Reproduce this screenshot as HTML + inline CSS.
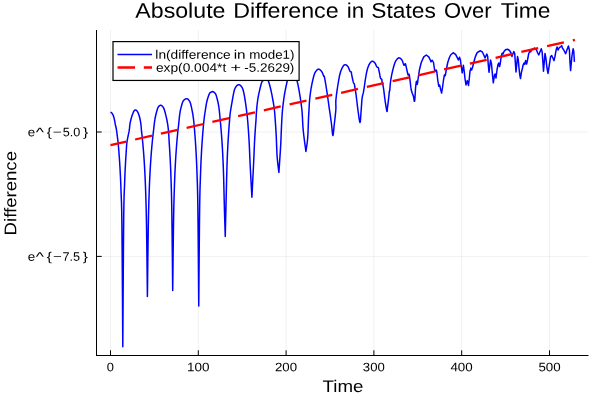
<!DOCTYPE html>
<html><head><meta charset="utf-8"><title>plot</title>
<style>
html,body{margin:0;padding:0;background:#fff;}
body{width:600px;height:400px;overflow:hidden;}
svg{display:block;will-change:transform;text-rendering:geometricPrecision;font-family:"Liberation Sans",sans-serif;}
</style></head><body>
<svg width="600" height="400" viewBox="0 0 600 400">
<rect x="0" y="0" width="600" height="400" fill="#ffffff"/>
<g stroke="#000" stroke-opacity="0.1" stroke-width="0.6" fill="none"><line x1="110.50" y1="30" x2="110.50" y2="355.5"/><line x1="198.30" y1="30" x2="198.30" y2="355.5"/><line x1="286.10" y1="30" x2="286.10" y2="355.5"/><line x1="373.90" y1="30" x2="373.90" y2="355.5"/><line x1="461.70" y1="30" x2="461.70" y2="355.5"/><line x1="549.50" y1="30" x2="549.50" y2="355.5"/><line x1="96.5" y1="132.0" x2="588.5" y2="132.0"/><line x1="96.5" y1="256.4" x2="588.5" y2="256.4"/></g>
<g stroke="#000" stroke-width="1" fill="none">
<line x1="96.5" y1="30" x2="96.5" y2="356"/>
<line x1="96" y1="355.5" x2="588.5" y2="355.5"/>
<line x1="110.50" y1="355.5" x2="110.50" y2="350.3"/><line x1="198.30" y1="355.5" x2="198.30" y2="350.3"/><line x1="286.10" y1="355.5" x2="286.10" y2="350.3"/><line x1="373.90" y1="355.5" x2="373.90" y2="350.3"/><line x1="461.70" y1="355.5" x2="461.70" y2="350.3"/><line x1="549.50" y1="355.5" x2="549.50" y2="350.3"/><line x1="96.5" y1="132.0" x2="101.7" y2="132.0"/><line x1="96.5" y1="256.4" x2="101.7" y2="256.4"/>
</g>
<clipPath id="c"><rect x="96.5" y="30" width="492" height="325.5"/></clipPath>
<g clip-path="url(#c)" fill="none">
<path d="M110.50 112.20 L110.68 112.27 L110.94 112.37 L111.23 112.51 L111.50 112.70 L111.75 112.95 L112.00 113.24 L112.25 113.59 L112.50 114.00 L112.75 114.45 L113.00 114.94 L113.25 115.52 L113.50 116.20 L113.75 117.01 L114.01 117.93 L114.26 118.93 L114.50 120.00 L114.73 121.17 L114.94 122.42 L115.16 123.72 L115.40 125.00 L115.65 126.07 L115.91 127.03 L116.19 128.22 L116.50 130.00 L116.90 132.81 L117.35 136.35 L117.78 139.84 L118.10 142.50 L118.25 143.81 L118.30 144.28 L118.32 144.72 L118.41 145.90 L118.59 148.05 L118.81 150.76 L119.06 153.82 L119.29 157.00 L119.51 160.21 L119.73 163.59 L119.95 167.25 L120.17 171.31 L120.39 175.61 L120.61 180.14 L120.82 185.30 L121.04 191.49 L121.26 197.08 L121.48 202.45 L121.70 210.95 L121.92 225.98 L122.16 252.95 L122.42 288.55 L122.64 323.07 L122.80 346.80 L122.96 321.69 L123.18 285.15 L123.44 247.53 L123.68 219.18 L123.90 203.68 L124.12 195.22 L124.34 190.13 L124.56 184.69 L124.78 178.51 L125.00 173.34 L125.21 168.81 L125.43 164.52 L125.66 160.37 L125.89 156.58 L126.11 153.18 L126.31 150.20 L126.46 147.80 L126.58 145.89 L126.71 144.22 L126.90 142.50 L127.18 140.67 L127.52 138.86 L127.87 137.13 L128.20 135.50 L128.50 134.04 L128.79 132.70 L129.06 131.39 L129.30 130.00 L129.49 128.47 L129.64 126.86 L129.80 125.26 L130.00 123.75 L130.26 122.34 L130.56 120.99 L130.88 119.71 L131.20 118.50 L131.51 117.38 L131.83 116.33 L132.16 115.35 L132.50 114.40 L132.86 113.44 L133.23 112.51 L133.61 111.66 L134.00 111.00 L134.39 110.53 L134.79 110.21 L135.20 110.04 L135.60 110.00 L136.00 110.10 L136.40 110.34 L136.80 110.71 L137.20 111.20 L137.60 111.83 L138.00 112.59 L138.38 113.45 L138.75 114.40 L139.09 115.42 L139.41 116.53 L139.71 117.72 L140.00 119.00 L140.28 120.43 L140.55 121.97 L140.80 123.54 L141.00 125.00 L141.13 126.29 L141.22 127.47 L141.29 128.67 L141.40 130.00 L141.56 131.45 L141.74 132.98 L141.93 134.64 L142.13 136.47 L142.34 138.51 L142.56 140.72 L142.79 143.07 L143.01 145.55 L143.23 148.10 L143.45 150.77 L143.67 153.60 L143.89 156.65 L144.11 159.87 L144.33 163.24 L144.55 166.90 L144.77 170.97 L144.99 175.26 L145.20 179.79 L145.42 184.95 L145.64 191.14 L145.86 197.90 L146.08 205.22 L146.30 214.12 L146.52 225.63 L146.76 242.45 L147.02 263.22 L147.24 282.91 L147.40 296.50 L147.56 283.24 L147.78 264.04 L148.04 243.75 L148.28 227.26 L148.50 215.86 L148.72 206.95 L148.94 199.57 L149.16 192.77 L149.38 186.58 L149.59 181.42 L149.81 176.89 L150.03 172.60 L150.25 168.53 L150.47 164.87 L150.69 161.50 L150.91 158.28 L151.13 155.23 L151.35 152.40 L151.57 149.74 L151.79 147.18 L152.01 144.74 L152.23 142.45 L152.44 140.26 L152.67 138.11 L152.89 136.09 L153.10 134.19 L153.33 132.22 L153.60 130.00 L153.89 127.38 L154.20 124.49 L154.56 121.55 L155.00 118.75 L155.57 115.99 L156.23 113.22 L156.91 110.71 L157.50 108.75 L157.98 107.51 L158.40 106.80 L158.79 106.38 L159.20 106.00 L159.62 105.62 L160.05 105.38 L160.47 105.25 L160.90 105.25 L161.32 105.37 L161.74 105.61 L162.17 105.98 L162.60 106.50 L163.03 107.06 L163.45 107.70 L163.90 108.62 L164.40 110.00 L165.00 112.04 L165.67 114.59 L166.33 117.35 L166.90 120.00 L167.36 122.45 L167.76 124.85 L168.10 127.34 L168.40 130.00 L168.64 132.87 L168.83 135.90 L169.00 139.06 L169.19 142.34 L169.40 145.64 L169.62 149.00 L169.84 152.61 L170.07 156.65 L170.29 160.95 L170.50 165.48 L170.72 170.64 L170.94 176.83 L171.16 183.39 L171.38 190.38 L171.60 199.21 L171.82 211.32 L172.06 229.85 L172.32 253.11 L172.54 275.30 L172.70 290.60 L172.86 276.96 L173.08 257.19 L173.34 236.33 L173.58 219.46 L173.80 207.92 L174.02 199.03 L174.24 191.73 L174.46 184.97 L174.68 178.78 L174.89 173.62 L175.11 169.09 L175.33 164.79 L175.55 160.73 L175.77 157.07 L175.99 153.69 L176.21 150.48 L176.43 147.44 L176.65 144.62 L176.87 141.95 L177.09 139.37 L177.32 136.81 L177.56 134.31 L177.79 132.00 L178.00 130.00 L178.15 128.62 L178.27 127.70 L178.40 126.67 L178.60 125.00 L178.87 122.34 L179.18 119.06 L179.55 115.62 L180.00 112.50 L180.55 109.66 L181.20 106.91 L181.87 104.45 L182.50 102.50 L183.07 101.21 L183.63 100.42 L184.16 99.93 L184.70 99.50 L185.23 99.09 L185.76 98.82 L186.28 98.69 L186.80 98.70 L187.33 98.87 L187.88 99.18 L188.40 99.63 L188.90 100.20 L189.35 100.82 L189.76 101.52 L190.17 102.45 L190.60 103.75 L191.08 105.60 L191.59 107.88 L192.08 110.28 L192.50 112.50 L192.84 114.45 L193.12 116.30 L193.37 118.12 L193.60 120.00 L193.81 121.88 L193.99 123.75 L194.17 125.73 L194.36 127.95 L194.57 130.42 L194.79 133.10 L195.02 135.97 L195.24 139.05 L195.46 142.26 L195.68 145.64 L195.90 149.30 L196.12 153.36 L196.34 157.66 L196.56 162.19 L196.77 167.35 L196.99 173.54 L197.21 179.67 L197.43 185.92 L197.65 194.61 L197.87 208.03 L198.11 230.36 L198.37 259.17 L198.59 286.91 L198.75 306.00 L198.91 287.10 L199.13 259.65 L199.39 231.12 L199.63 208.99 L199.85 195.63 L200.07 186.94 L200.29 180.65 L200.51 174.50 L200.73 168.31 L200.94 163.15 L201.16 158.62 L201.38 154.32 L201.60 150.25 L201.82 146.60 L202.04 143.22 L202.26 140.01 L202.48 136.95 L202.70 134.12 L202.92 131.45 L203.14 128.90 L203.35 126.49 L203.56 124.23 L203.78 122.08 L204.00 120.00 L204.22 118.11 L204.44 116.40 L204.68 114.61 L205.00 112.50 L205.40 109.86 L205.86 106.88 L206.36 103.89 L206.90 101.25 L207.50 98.97 L208.16 96.90 L208.81 95.13 L209.40 93.75 L209.91 92.90 L210.36 92.49 L210.79 92.29 L211.20 92.10 L211.59 91.85 L211.94 91.67 L212.30 91.58 L212.70 91.60 L213.15 91.74 L213.64 91.99 L214.13 92.35 L214.60 92.80 L215.01 93.20 L215.39 93.61 L215.78 94.31 L216.25 95.60 L216.84 97.64 L217.51 100.24 L218.18 103.19 L218.75 106.25 L219.20 109.63 L219.59 113.36 L219.92 116.97 L220.20 120.00 L220.42 122.12 L220.57 123.65 L220.70 125.10 L220.86 126.97 L221.06 129.38 L221.29 132.06 L221.51 134.97 L221.74 138.07 L221.96 141.29 L222.18 144.66 L222.40 148.32 L222.62 152.39 L222.84 156.68 L223.05 161.21 L223.27 166.38 L223.49 172.56 L223.71 180.30 L223.93 189.23 L224.15 198.45 L224.37 207.05 L224.61 215.46 L224.87 223.93 L225.09 231.33 L225.25 236.50 L225.41 229.82 L225.63 220.22 L225.89 209.54 L226.13 199.63 L226.35 190.50 L226.57 181.34 L226.79 172.70 L227.01 165.14 L227.23 158.95 L227.44 153.79 L227.66 149.26 L227.88 144.96 L228.10 140.89 L228.33 137.21 L228.55 133.83 L228.76 130.65 L228.98 127.65 L229.19 124.90 L229.40 122.35 L229.60 120.00 L229.75 118.02 L229.87 116.37 L230.03 114.65 L230.30 112.50 L230.73 109.67 L231.27 106.41 L231.85 103.07 L232.40 100.00 L232.90 97.19 L233.39 94.48 L233.88 92.03 L234.40 90.00 L234.95 88.47 L235.53 87.34 L236.12 86.49 L236.70 85.80 L237.28 85.26 L237.87 84.93 L238.45 84.78 L239.00 84.75 L239.52 84.84 L240.01 85.06 L240.50 85.44 L241.00 86.00 L241.52 86.67 L242.05 87.45 L242.58 88.51 L243.10 90.00 L243.61 92.02 L244.12 94.47 L244.62 97.18 L245.10 100.00 L245.57 103.07 L246.03 106.41 L246.45 109.67 L246.80 112.50 L247.06 114.67 L247.26 116.40 L247.42 118.06 L247.60 120.00 L247.80 122.24 L247.99 124.61 L248.18 127.20 L248.39 130.07 L248.60 133.22 L248.82 136.60 L249.04 140.30 L249.27 144.39 L249.46 148.73 L249.65 153.33 L249.86 158.50 L250.14 164.56 L250.56 172.62 L251.08 182.17 L251.56 191.08 L251.90 197.25 L252.24 190.60 L252.72 180.98 L253.24 170.73 L253.66 162.19 L253.94 155.97 L254.15 150.81 L254.34 146.30 L254.53 142.02 L254.76 137.87 L254.99 134.08 L255.21 130.68 L255.41 127.70 L255.58 125.37 L255.72 123.58 L255.86 121.93 L256.00 120.00 L256.13 117.72 L256.24 115.30 L256.39 112.73 L256.60 110.00 L256.87 107.08 L257.19 103.98 L257.59 100.77 L258.10 97.50 L258.80 93.91 L259.65 90.05 L260.52 86.49 L261.25 83.75 L261.79 82.17 L262.22 81.40 L262.62 80.96 L263.10 80.40 L263.68 79.51 L264.31 78.56 L264.96 77.81 L265.60 77.50 L266.23 77.69 L266.85 78.25 L267.48 79.16 L268.10 80.40 L268.73 82.01 L269.35 83.98 L269.98 86.24 L270.60 88.75 L271.25 91.67 L271.93 94.97 L272.56 98.29 L273.10 101.25 L273.52 103.62 L273.84 105.64 L274.13 107.65 L274.40 110.00 L274.67 112.79 L274.92 115.82 L275.16 119.03 L275.39 122.34 L275.62 125.64 L275.83 129.00 L276.05 132.61 L276.27 136.65 L276.46 141.39 L276.65 146.65 L276.86 151.96 L277.14 156.83 L277.56 161.43 L278.08 165.92 L278.56 169.79 L278.90 172.50 L279.24 167.53 L279.72 160.37 L280.24 152.58 L280.66 145.72 L280.94 140.11 L281.14 134.93 L281.33 130.11 L281.53 125.55 L281.75 121.32 L281.95 117.45 L282.19 113.74 L282.50 110.00 L282.90 106.15 L283.35 102.31 L283.86 98.56 L284.40 95.00 L285.03 91.46 L285.73 87.94 L286.39 84.84 L286.90 82.50 L287.14 81.33 L287.21 81.04 L287.27 80.95 L287.50 80.40 L287.95 79.09 L288.54 77.41 L289.18 75.75 L289.80 74.50 L290.39 73.73 L290.99 73.26 L291.60 73.03 L292.20 73.00 L292.80 73.17 L293.41 73.57 L294.01 74.18 L294.60 75.00 L295.19 76.04 L295.78 77.30 L296.36 78.76 L296.90 80.40 L297.39 82.21 L297.85 84.21 L298.30 86.39 L298.75 88.75 L299.23 91.39 L299.71 94.27 L300.18 97.21 L300.60 100.00 L300.98 102.67 L301.34 105.30 L301.64 107.78 L301.90 110.00 L302.07 111.68 L302.17 112.97 L302.26 114.39 L302.39 116.47 L302.54 119.35 L302.69 122.74 L302.91 126.58 L303.27 130.79 L303.86 136.00 L304.64 142.04 L305.39 147.63 L305.90 151.50 L306.24 149.29 L306.72 146.15 L307.24 142.39 L307.66 138.28 L307.95 133.44 L308.18 127.87 L308.36 122.46 L308.53 118.11 L308.68 115.28 L308.78 113.42 L308.88 111.88 L309.00 110.00 L309.12 107.69 L309.23 105.27 L309.37 102.72 L309.60 100.00 L309.91 97.05 L310.28 93.91 L310.73 90.68 L311.25 87.50 L311.89 84.19 L312.62 80.76 L313.38 77.57 L314.10 75.00 L314.75 73.21 L315.37 71.99 L315.98 71.13 L316.60 70.40 L317.22 69.77 L317.83 69.34 L318.45 69.15 L319.10 69.20 L319.80 69.56 L320.54 70.20 L321.26 71.02 L321.90 71.90 L322.46 72.96 L322.96 74.20 L323.39 75.38 L323.75 76.25 L323.97 76.44 L324.07 76.18 L324.18 76.12 L324.40 76.90 L324.78 78.81 L325.25 81.46 L325.76 84.48 L326.25 87.50 L326.73 90.60 L327.22 93.91 L327.69 97.15 L328.10 100.00 L328.43 102.35 L328.70 104.38 L328.95 106.21 L329.20 108.00 L329.45 109.64 L329.68 111.09 L329.92 112.63 L330.20 114.50 L330.52 116.84 L330.88 119.49 L331.25 122.27 L331.60 125.00 L331.93 128.14 L332.26 131.62 L332.58 134.44 L332.90 135.60 L333.23 134.44 L333.56 131.62 L333.88 128.14 L334.20 125.00 L334.52 122.27 L334.85 119.49 L335.15 116.84 L335.40 114.50 L335.59 112.63 L335.72 111.09 L335.83 109.64 L335.90 108.00 L335.90 106.21 L335.83 104.38 L335.80 102.35 L335.90 100.00 L336.17 97.22 L336.54 94.11 L337.00 90.82 L337.50 87.50 L338.05 84.00 L338.66 80.31 L339.31 76.78 L340.00 73.75 L340.75 71.29 L341.55 69.23 L342.35 67.56 L343.10 66.25 L343.77 65.37 L344.39 64.90 L344.99 64.73 L345.60 64.75 L346.24 64.98 L346.89 65.46 L347.52 66.12 L348.10 66.90 L348.63 67.92 L349.13 69.17 L349.59 70.37 L350.00 71.25 L350.37 71.62 L350.69 71.67 L350.97 71.67 L351.20 71.90 L351.37 72.44 L351.48 73.14 L351.57 73.95 L351.70 74.80 L351.87 75.71 L352.07 76.70 L352.28 77.73 L352.50 78.75 L352.74 79.82 L353.00 80.95 L353.26 81.99 L353.50 82.80 L353.72 83.24 L353.93 83.41 L354.13 83.55 L354.30 83.90 L354.44 84.51 L354.55 85.25 L354.66 86.10 L354.80 87.00 L354.97 87.90 L355.17 88.83 L355.38 89.91 L355.60 91.25 L355.82 92.84 L356.06 94.62 L356.31 96.66 L356.60 99.00 L356.93 101.77 L357.29 104.91 L357.69 108.15 L358.10 111.25 L358.57 114.63 L359.08 118.27 L359.58 121.21 L360.00 122.50 L360.32 121.55 L360.56 118.98 L360.78 115.67 L361.00 112.50 L361.24 109.35 L361.48 105.88 L361.70 102.59 L361.90 100.00 L362.06 98.44 L362.18 97.56 L362.31 96.91 L362.50 96.00 L362.75 94.89 L363.05 93.78 L363.38 92.40 L363.75 90.50 L364.17 87.79 L364.63 84.48 L365.12 81.06 L365.60 78.00 L366.06 75.37 L366.51 72.95 L366.98 70.73 L367.50 68.75 L368.08 67.00 L368.71 65.46 L369.36 64.16 L370.00 63.10 L370.62 62.28 L371.25 61.71 L371.88 61.36 L372.50 61.25 L373.14 61.41 L373.79 61.82 L374.42 62.41 L375.00 63.10 L375.53 63.99 L376.02 65.07 L376.47 66.12 L376.90 66.90 L377.31 67.25 L377.69 67.34 L378.02 67.38 L378.30 67.60 L378.49 68.08 L378.60 68.69 L378.69 69.35 L378.80 70.00 L378.93 70.54 L379.06 71.04 L379.21 71.65 L379.40 72.50 L379.64 73.81 L379.91 75.44 L380.21 77.03 L380.50 78.20 L380.81 78.74 L381.14 78.89 L381.45 78.95 L381.70 79.20 L381.85 79.75 L381.93 80.42 L382.00 81.14 L382.10 81.80 L382.24 82.29 L382.39 82.69 L382.56 83.19 L382.75 84.00 L382.97 85.14 L383.21 86.51 L383.47 88.13 L383.75 90.00 L384.03 92.19 L384.32 94.67 L384.64 97.32 L385.00 100.00 L385.46 103.08 L385.99 106.48 L386.50 109.46 L386.90 111.25 L387.13 111.51 L387.24 110.70 L387.33 109.23 L387.50 107.50 L387.78 105.36 L388.12 102.67 L388.46 99.90 L388.75 97.50 L388.96 95.49 L389.13 93.65 L389.27 92.11 L389.40 91.00 L389.50 90.68 L389.56 90.98 L389.63 91.19 L389.75 90.60 L389.90 88.91 L390.08 86.52 L390.30 83.84 L390.60 81.25 L390.99 78.77 L391.45 76.21 L391.96 73.68 L392.50 71.25 L393.08 68.86 L393.71 66.48 L394.36 64.31 L395.00 62.50 L395.64 61.14 L396.29 60.13 L396.92 59.37 L397.50 58.75 L398.00 58.26 L398.45 57.96 L398.90 57.84 L399.40 57.90 L400.00 58.16 L400.66 58.62 L401.32 59.24 L401.90 60.00 L402.41 61.02 L402.87 62.28 L403.27 63.50 L403.60 64.40 L403.82 64.91 L403.94 65.17 L404.04 65.25 L404.20 65.20 L404.45 64.90 L404.74 64.36 L405.04 63.86 L405.30 63.70 L405.50 63.97 L405.66 64.51 L405.82 65.22 L406.00 66.00 L406.20 66.86 L406.42 67.83 L406.65 68.89 L406.90 70.00 L407.18 71.31 L407.49 72.79 L407.81 74.12 L408.10 75.00 L408.37 75.10 L408.62 74.66 L408.86 74.25 L409.10 74.40 L409.32 75.26 L409.53 76.54 L409.75 78.15 L410.00 80.00 L410.27 82.28 L410.55 84.96 L410.87 87.66 L411.25 90.00 L411.75 91.86 L412.33 93.44 L412.91 94.86 L413.40 96.25 L413.77 98.03 L414.07 100.00 L414.34 101.35 L414.60 101.25 L414.87 98.96 L415.12 95.08 L415.36 90.85 L415.60 87.50 L415.84 85.19 L416.07 83.32 L416.29 81.98 L416.50 81.25 L416.70 81.58 L416.88 82.79 L417.06 84.01 L417.25 84.40 L417.44 83.68 L417.64 82.32 L417.85 80.59 L418.10 78.75 L418.42 76.58 L418.80 74.02 L419.16 71.64 L419.40 70.00 L421.25 62.50 L423.75 56.90 L426.25 55.00 L428.75 56.90 L430.60 60.60 L431.00 61.90 L432.25 60.25 L433.50 62.50 L434.40 68.75 L435.00 71.25 L436.25 70.00 L436.90 72.50 L437.75 80.00 L438.75 86.25 L439.60 85.00 L440.60 89.40 L441.60 93.10 L442.50 87.50 L443.50 80.00 L444.40 75.00 L445.25 75.60 L446.25 70.00 L447.75 62.50 L449.40 57.50 L450.60 55.00 L453.10 52.75 L455.60 54.40 L457.50 58.10 L458.40 60.00 L459.50 57.20 L460.40 60.00 L461.25 66.25 L462.20 72.80 L463.40 65.30 L464.20 71.25 L465.00 78.75 L466.00 85.00 L467.25 80.60 L468.50 85.40 L469.40 77.50 L470.00 71.25 L470.90 68.10 L471.60 70.00 L472.50 67.50 L473.75 62.50 L474.75 58.75 L475.40 56.60 L476.90 53.10 L478.00 52.00 L480.50 50.80 L482.50 52.20 L484.00 55.50 L485.00 58.00 L486.80 54.00 L487.70 56.50 L488.30 65.00 L489.00 72.30 L490.50 60.00 L491.50 64.00 L492.30 73.00 L493.00 80.00 L493.30 82.80 L494.50 75.00 L495.20 74.00 L496.00 78.00 L497.00 70.00 L498.00 64.50 L498.70 63.00 L499.50 66.50 L500.20 64.00 L501.00 58.00 L502.00 53.50 L502.50 53.00 L503.00 54.00 L504.00 51.50 L505.50 49.80 L507.50 49.20 L509.50 50.50 L511.00 53.00 L512.00 56.50 L513.80 51.50 L514.70 53.50 L515.30 62.00 L516.00 72.00 L517.50 56.50 L518.30 60.00 L519.00 68.00 L519.80 75.00 L520.50 78.50 L521.50 72.00 L522.50 68.00 L523.10 65.00 L524.00 63.10 L524.75 64.40 L525.60 60.60 L526.60 64.00 L527.50 60.00 L528.75 53.50 L530.00 51.00 L530.60 51.90 L531.90 49.40 L534.40 48.10 L536.25 49.40 L537.50 52.50 L538.75 55.00 L541.25 48.75 L542.10 51.60 L542.90 62.00 L543.50 71.25 L545.00 53.40 L545.90 58.20 L546.90 67.50 L548.00 73.40 L549.40 64.40 L550.60 56.60 L551.70 55.60 L553.10 58.50 L554.00 60.60 L555.00 56.25 L556.25 49.40 L557.10 46.90 L558.10 50.00 L559.40 47.50 L560.60 46.90 L561.60 45.60 L562.50 48.10 L563.75 50.00 L565.60 53.75 L566.90 50.00 L568.40 46.00 L569.40 50.00 L570.00 62.50 L570.60 70.60 L571.90 56.25 L573.10 48.75 L573.75 51.25 L574.40 61.90" stroke="#0000ff" stroke-width="1.5" stroke-linejoin="round" stroke-linecap="butt"/>
<line x1="110.50" y1="145.08" x2="574.96" y2="39.79" stroke="#ff0000" stroke-width="2.3" stroke-dasharray="17.3 9.1" stroke-dashoffset="1.15" stroke-linecap="butt"/>
</g>
<g fill="#000"><text transform="translate(135.34 17.8) rotate(0.04)" font-size="21.2px" textLength="90.13" lengthAdjust="spacingAndGlyphs">Absolute</text><text transform="translate(233.19 17.8) rotate(0.04)" font-size="21.2px" textLength="105.37" lengthAdjust="spacingAndGlyphs">Difference</text><text transform="translate(346.84 17.8) rotate(0.04)" font-size="21.2px" textLength="17.52" lengthAdjust="spacingAndGlyphs">in</text><text transform="translate(371.30 17.8) rotate(0.04)" font-size="21.2px" textLength="64.48" lengthAdjust="spacingAndGlyphs">States</text><text transform="translate(444.00 17.8) rotate(0.04)" font-size="21.2px" textLength="47.55" lengthAdjust="spacingAndGlyphs">Over</text><text transform="translate(500.72 17.8) rotate(0.04)" font-size="21.2px" textLength="49.65" lengthAdjust="spacingAndGlyphs">Time</text><text transform="translate(106.86 371.3) rotate(0.04)" font-size="12.3px" textLength="7.15" lengthAdjust="spacingAndGlyphs">0</text><text transform="translate(187.06 371.3) rotate(0.04)" font-size="12.3px" textLength="22.46" lengthAdjust="spacingAndGlyphs">100</text><text transform="translate(274.94 371.3) rotate(0.04)" font-size="12.3px" textLength="22.07" lengthAdjust="spacingAndGlyphs">200</text><text transform="translate(362.84 371.3) rotate(0.04)" font-size="12.3px" textLength="21.88" lengthAdjust="spacingAndGlyphs">300</text><text transform="translate(450.40 371.3) rotate(0.04)" font-size="12.3px" textLength="22.28" lengthAdjust="spacingAndGlyphs">400</text><text transform="translate(538.39 371.3) rotate(0.04)" font-size="12.3px" textLength="22.22" lengthAdjust="spacingAndGlyphs">500</text><text transform="translate(27.71 136.3) rotate(0.04)" font-size="12.3px" textLength="7.38" lengthAdjust="spacingAndGlyphs">e</text><text transform="translate(35.67 136.3) rotate(0.04)" font-size="12.3px" textLength="8.21" lengthAdjust="spacingAndGlyphs">^</text><text transform="translate(46.73 136.3) rotate(0.04)" font-size="12.3px" textLength="5.01" lengthAdjust="spacingAndGlyphs">{</text><text transform="translate(52.87 136.3) rotate(0.04)" font-size="12.3px" textLength="8.99" lengthAdjust="spacingAndGlyphs">−</text><text transform="translate(62.63 136.3) rotate(0.04)" font-size="12.3px" textLength="17.59" lengthAdjust="spacingAndGlyphs">5.0</text><text transform="translate(82.96 136.3) rotate(0.04)" font-size="12.3px" textLength="5.21" lengthAdjust="spacingAndGlyphs">}</text><text transform="translate(27.71 260.7) rotate(0.04)" font-size="12.3px" textLength="7.47" lengthAdjust="spacingAndGlyphs">e</text><text transform="translate(35.81 260.7) rotate(0.04)" font-size="12.3px" textLength="8.20" lengthAdjust="spacingAndGlyphs">^</text><text transform="translate(46.75 260.7) rotate(0.04)" font-size="12.3px" textLength="5.13" lengthAdjust="spacingAndGlyphs">{</text><text transform="translate(53.06 260.7) rotate(0.04)" font-size="12.3px" textLength="8.81" lengthAdjust="spacingAndGlyphs">−</text><text transform="translate(62.58 260.7) rotate(0.04)" font-size="12.3px" textLength="17.59" lengthAdjust="spacingAndGlyphs">7.5</text><text transform="translate(82.75 260.7) rotate(0.04)" font-size="12.3px" textLength="5.16" lengthAdjust="spacingAndGlyphs">}</text><text transform="translate(322.53 392.0) rotate(0.04)" font-size="16.9px" textLength="40.90" lengthAdjust="spacingAndGlyphs">Time</text><text transform="translate(16.3 235.41) rotate(-89.96)" font-size="16.9px" textLength="84.42" lengthAdjust="spacingAndGlyphs">Difference</text></g>
<rect x="113.0" y="41.6" width="186.1" height="38.85" fill="#fff" stroke="#000" stroke-width="1.2"/>
<line x1="117.5" y1="54.6" x2="152" y2="54.6" stroke="#0000ff" stroke-width="1.5"/>
<line x1="117.5" y1="67.5" x2="152" y2="67.5" stroke="#ff0000" stroke-width="2.3" stroke-dasharray="17.5 8.8"/>
<g fill="#000"><text transform="translate(155.34 58.7) rotate(0.04)" font-size="12.3px" textLength="75.34" lengthAdjust="spacingAndGlyphs">ln(difference</text><text transform="translate(233.63 58.7) rotate(0.04)" font-size="12.3px" textLength="11.93" lengthAdjust="spacingAndGlyphs">in</text><text transform="translate(249.14 58.7) rotate(0.04)" font-size="12.3px" textLength="45.38" lengthAdjust="spacingAndGlyphs">mode1)</text><text transform="translate(155.93 71.8) rotate(0.04)" font-size="12.3px" textLength="70.28" lengthAdjust="spacingAndGlyphs">exp(0.004*t</text><text transform="translate(230.42 71.8) rotate(0.04)" font-size="12.3px" textLength="10.55" lengthAdjust="spacingAndGlyphs">+</text><text transform="translate(244.33 71.8) rotate(0.04)" font-size="12.3px" textLength="50.01" lengthAdjust="spacingAndGlyphs">-5.2629)</text></g>
</svg>
</body></html>
